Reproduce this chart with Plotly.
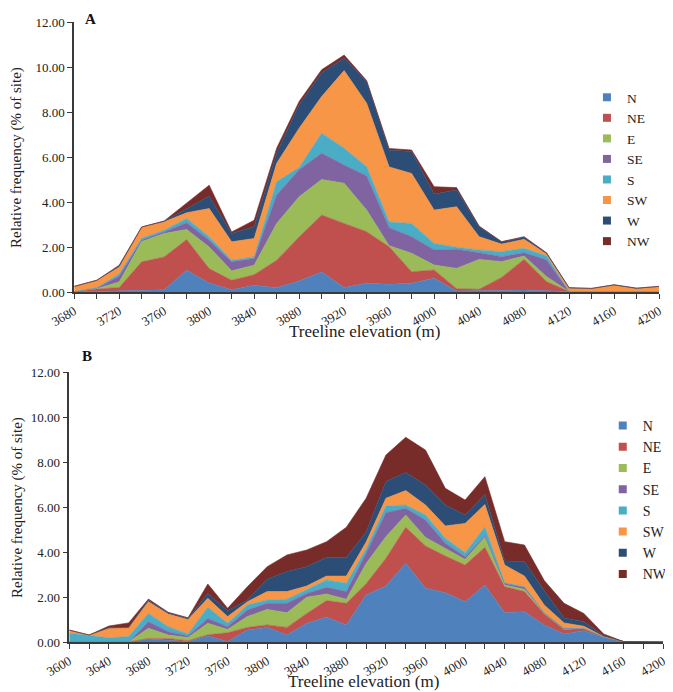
import plotly.graph_objects as go

# page body has an 8px margin; figure sized so it fills the 673x692 window
OFF = 8
W_PX, H_PX = 673 - OFF, 692 - OFF

directions = ["N", "NE", "E", "SE", "S", "SW", "W", "NW"]
colors = ["#4F81BD", "#C0504D", "#9BBB59", "#8064A2", "#4BACC6", "#F79646", "#2C4D75", "#772C2A"]

# Panel A: elevations 3680..4200 step 20
elev_a = list(range(3680, 4201, 20))
a_N  = [0, 0.03, 0.05, 0.1, 0.1, 0.97, 0.4, 0.1, 0.3, 0.19, 0.49, 0.89, 0.2, 0.39, 0.34, 0.39, 0.61, 0.05, 0.06, 0.09, 0.09, 0.06, 0.02, 0.02, 0.02, 0.02, 0.02]
a_NE = [0.02, 0.1, 0.15, 1.24, 1.46, 1.36, 0.64, 0.42, 0.47, 1.22, 1.96, 2.53, 2.85, 2.29, 1.67, 0.51, 0.37, 0.1, 0.06, 0.56, 1.36, 0.4, 0, 0, 0, 0, 0]
a_E  = [0, 0.02, 0.25, 0.9, 1.04, 0.45, 0.96, 0.42, 0.42, 1.64, 1.78, 1.58, 1.78, 0.96, 0.05, 0.82, 0.22, 0.9, 1.33, 0.7, 0.15, 0.22, 0, 0, 0, 0, 0]
a_SE = [0, 0.02, 0.25, 0.07, 0.07, 0.3, 0.3, 0.4, 0.3, 1.26, 1.2, 1.17, 0.81, 1.52, 0.8, 0.74, 0.67, 0.85, 0.3, 0.22, 0.15, 0.74, 0, 0, 0, 0, 0]
a_S  = [0, 0.02, 0.1, 0.08, 0.08, 0.19, 0.15, 0.07, 0.07, 0.59, 0.1, 0.89, 0.75, 0.41, 0.25, 0.59, 0.29, 0.09, 0.12, 0.22, 0.19, 0.18, 0, 0, 0, 0, 0]
a_SW = [0.23, 0.33, 0.3, 0.5, 0.37, 0.25, 1.26, 0.82, 0.82, 0.82, 1.75, 1.63, 3.45, 2.82, 2.45, 2.22, 1.48, 1.8, 0.59, 0.34, 0.4, 0.09, 0.15, 0.12, 0.28, 0.13, 0.21]
a_W  = [0, 0, 0.05, 0, 0.02, 0.19, 0.55, 0.37, 0.52, 0.45, 1.04, 1.04, 0.55, 0.96, 0.74, 0.97, 0.72, 0.74, 0.44, 0.09, 0.09, 0.03, 0.02, 0.02, 0.02, 0.02, 0.02]
a_NW = [0, 0, 0.04, 0, 0.02, 0.23, 0.49, 0.07, 0.29, 0.22, 0.15, 0.15, 0.14, 0.05, 0.08, 0.07, 0.32, 0.11, 0.03, 0.02, 0.03, 0.02, 0, 0, 0, 0, 0]

# Panel B: elevations 3600..4200 step 20
elev_b = list(range(3600, 4201, 20))
b_N  = [0, 0, 0, 0, 0.13, 0.06, 0.02, 0.27, 0.02, 0.53, 0.65, 0.31, 0.83, 1.1, 0.76, 2.09, 2.49, 3.5, 2.39, 2.19, 1.79, 2.53, 1.3, 1.35, 0.76, 0.36, 0.5, 0.2, 0.02, 0, 0]
b_NE = [0, 0, 0, 0, 0.03, 0.1, 0.04, 0.05, 0.39, 0.12, 0.11, 0.34, 0.44, 0.74, 0.96, 0.5, 1.23, 1.6, 1.88, 1.63, 1.63, 1.68, 1.16, 0.89, 0.48, 0.2, 0.1, 0.04, 0, 0, 0]
b_E  = [0, 0, 0, 0, 0.45, 0.15, 0.14, 0.51, 0.15, 0.48, 0.69, 0.65, 0.72, 0.29, 0.18, 0.9, 0.96, 0.54, 0.38, 0.34, 0.25, 0.45, 0.07, 0.1, 0.02, 0.02, 0, 0, 0, 0, 0]
b_SE = [0, 0, 0, 0, 0.29, 0.15, 0.07, 0.22, 0.12, 0.29, 0.27, 0.42, 0.17, 0.3, 0.34, 0.45, 1.07, 0.3, 0.77, 0.23, 0.12, 0.05, 0.07, 0.09, 0.02, 0.02, 0, 0, 0, 0, 0]
b_S  = [0.39, 0.28, 0.19, 0.24, 0.37, 0.22, 0.09, 0.49, 0.15, 0.22, 0.15, 0.18, 0.18, 0.33, 0.37, 0.2, 0.29, 0.15, 0.22, 0.22, 0.18, 0.4, 0.04, 0.03, 0.02, 0.02, 0, 0, 0, 0, 0]
b_SW = [0.14, 0.03, 0.42, 0.41, 0.52, 0.56, 0.64, 0.4, 0.3, 0.15, 0.37, 0.34, 0.15, 0.17, 0.32, 0.3, 0.35, 0.64, 0.45, 0.55, 1.3, 1.0, 0.78, 0.47, 0.34, 0.23, 0.1, 0, 0, 0, 0]
b_W  = [0, 0, 0.02, 0, 0.07, 0.06, 0.04, 0.22, 0.26, 0.08, 0.55, 0.89, 0.86, 0.83, 0.83, 0.45, 0.74, 0.8, 0.89, 0.93, 0.37, 0.44, 0.18, 0.64, 0.64, 0.22, 0.2, 0.04, 0, 0, 0]
b_NW = [0, 0, 0.08, 0.2, 0.05, 0.02, 0.04, 0.42, 0.11, 0.59, 0.56, 0.74, 0.74, 0.7, 1.34, 1.5, 1.18, 1.57, 1.55, 0.74, 0.67, 0.8, 0.86, 0.74, 0.45, 0.65, 0.37, 0.08, 0, 0, 0]

y_ticks = [0, 2, 4, 6, 8, 10, 12]

series_a = [a_N, a_NE, a_E, a_SE, a_S, a_SW, a_W, a_NW]
series_b = [b_N, b_NE, b_E, b_SE, b_S, b_SW, b_W, b_NW]

FONT = "Liberation Serif, Times New Roman, serif"


def px_x(x):
    return (x - OFF) / W_PX


def px_y(y):
    return 1 - (y - OFF) / H_PX


fig = go.Figure()

for name, col, vals in zip(directions, colors, series_a):
    fig.add_trace(go.Scatter(x=elev_a, y=vals, stackgroup="a", mode="lines",
                             line=dict(width=0.6, color=col), fillcolor=col,
                             xaxis="x", yaxis="y", showlegend=False, name=name))
for name, col, vals in zip(directions, colors, series_b):
    fig.add_trace(go.Scatter(x=elev_b, y=vals, stackgroup="b", mode="lines",
                             line=dict(width=0.6, color=col), fillcolor=col,
                             xaxis="x2", yaxis="y2", showlegend=False, name=name))

# legend entries (square swatches)
for name, col in zip(directions, colors):
    fig.add_trace(go.Scatter(x=[None], y=[None], mode="markers", name=name,
                             marker=dict(symbol="square", size=8, color=col),
                             xaxis="x", yaxis="y", legend="legend"))
for name, col in zip(directions, colors):
    fig.add_trace(go.Scatter(x=[None], y=[None], mode="markers", name=name,
                             marker=dict(symbol="square", size=8, color=col),
                             xaxis="x2", yaxis="y2", legend="legend2"))

axis_common = dict(showline=True, linecolor="#3a3a3a", linewidth=1.5, ticks="outside",
                   tickcolor="#3a3a3a", ticklen=5, showgrid=False, zeroline=False,
                   tickfont=dict(family=FONT, size=13, color="#222"), automargin=False)


def ann(text, x, y, size, angle=0, color="#222"):
    return dict(text=text, x=px_x(x), y=px_y(y), xref="paper", yref="paper",
                xanchor="center", yanchor="middle", showarrow=False, textangle=angle,
                font=dict(family=FONT, size=size, color=color))


fig.update_layout(
    width=W_PX, height=H_PX,
    margin=dict(l=0, r=0, t=0, b=0),
    paper_bgcolor="white", plot_bgcolor="white",
    font=dict(family=FONT, color="#222"),
    xaxis=dict(domain=[px_x(75), px_x(667)], range=[3680, 4200], anchor="y",
               tick0=3680, dtick=40, tickangle=-30,
               minor=dict(dtick=20, ticks="outside", ticklen=5, tickcolor="#3a3a3a"),
               **axis_common),
    yaxis=dict(domain=[px_y(292), px_y(22)], range=[0, 12], anchor="x",
               tickvals=y_ticks, tickformat=".2f", **axis_common),
    xaxis2=dict(domain=[px_x(70), px_x(671)], range=[3600, 4200], anchor="y2",
                tick0=3600, dtick=40, tickangle=-30,
                minor=dict(dtick=20, ticks="outside", ticklen=5, tickcolor="#3a3a3a"),
                **axis_common),
    yaxis2=dict(domain=[px_y(642), px_y(372)], range=[0, 12], anchor="x2",
                tickvals=y_ticks, tickformat=".2f", **axis_common),
    legend=dict(x=px_x(594), y=px_y(82), xanchor="left", yanchor="top", traceorder="normal",
                font=dict(family=FONT, size=13.5, color="#222"), bgcolor="rgba(0,0,0,0)",
                itemwidth=30, tracegroupgap=0),
    legend2=dict(x=px_x(610), y=px_y(410), xanchor="left", yanchor="top", traceorder="normal",
                 font=dict(family=FONT, size=14, color="#222"), bgcolor="rgba(0,0,0,0)",
                 itemwidth=30, tracegroupgap=0),
    annotations=[
        ann("<b>A</b>", 92, 19, 15, color="#111"),
        ann("<b>B</b>", 88, 356, 15, color="#111"),
        ann("Relative frequency (% of site)", 17, 157, 15, -90),
        ann("Relative frequency (% of site)", 17, 507, 15, -90),
        ann("Treeline elevation (m)", 369, 331, 17),
        ann("Treeline elevation (m)", 368, 681, 17),
    ],
)

fig.write_html("out.html")
